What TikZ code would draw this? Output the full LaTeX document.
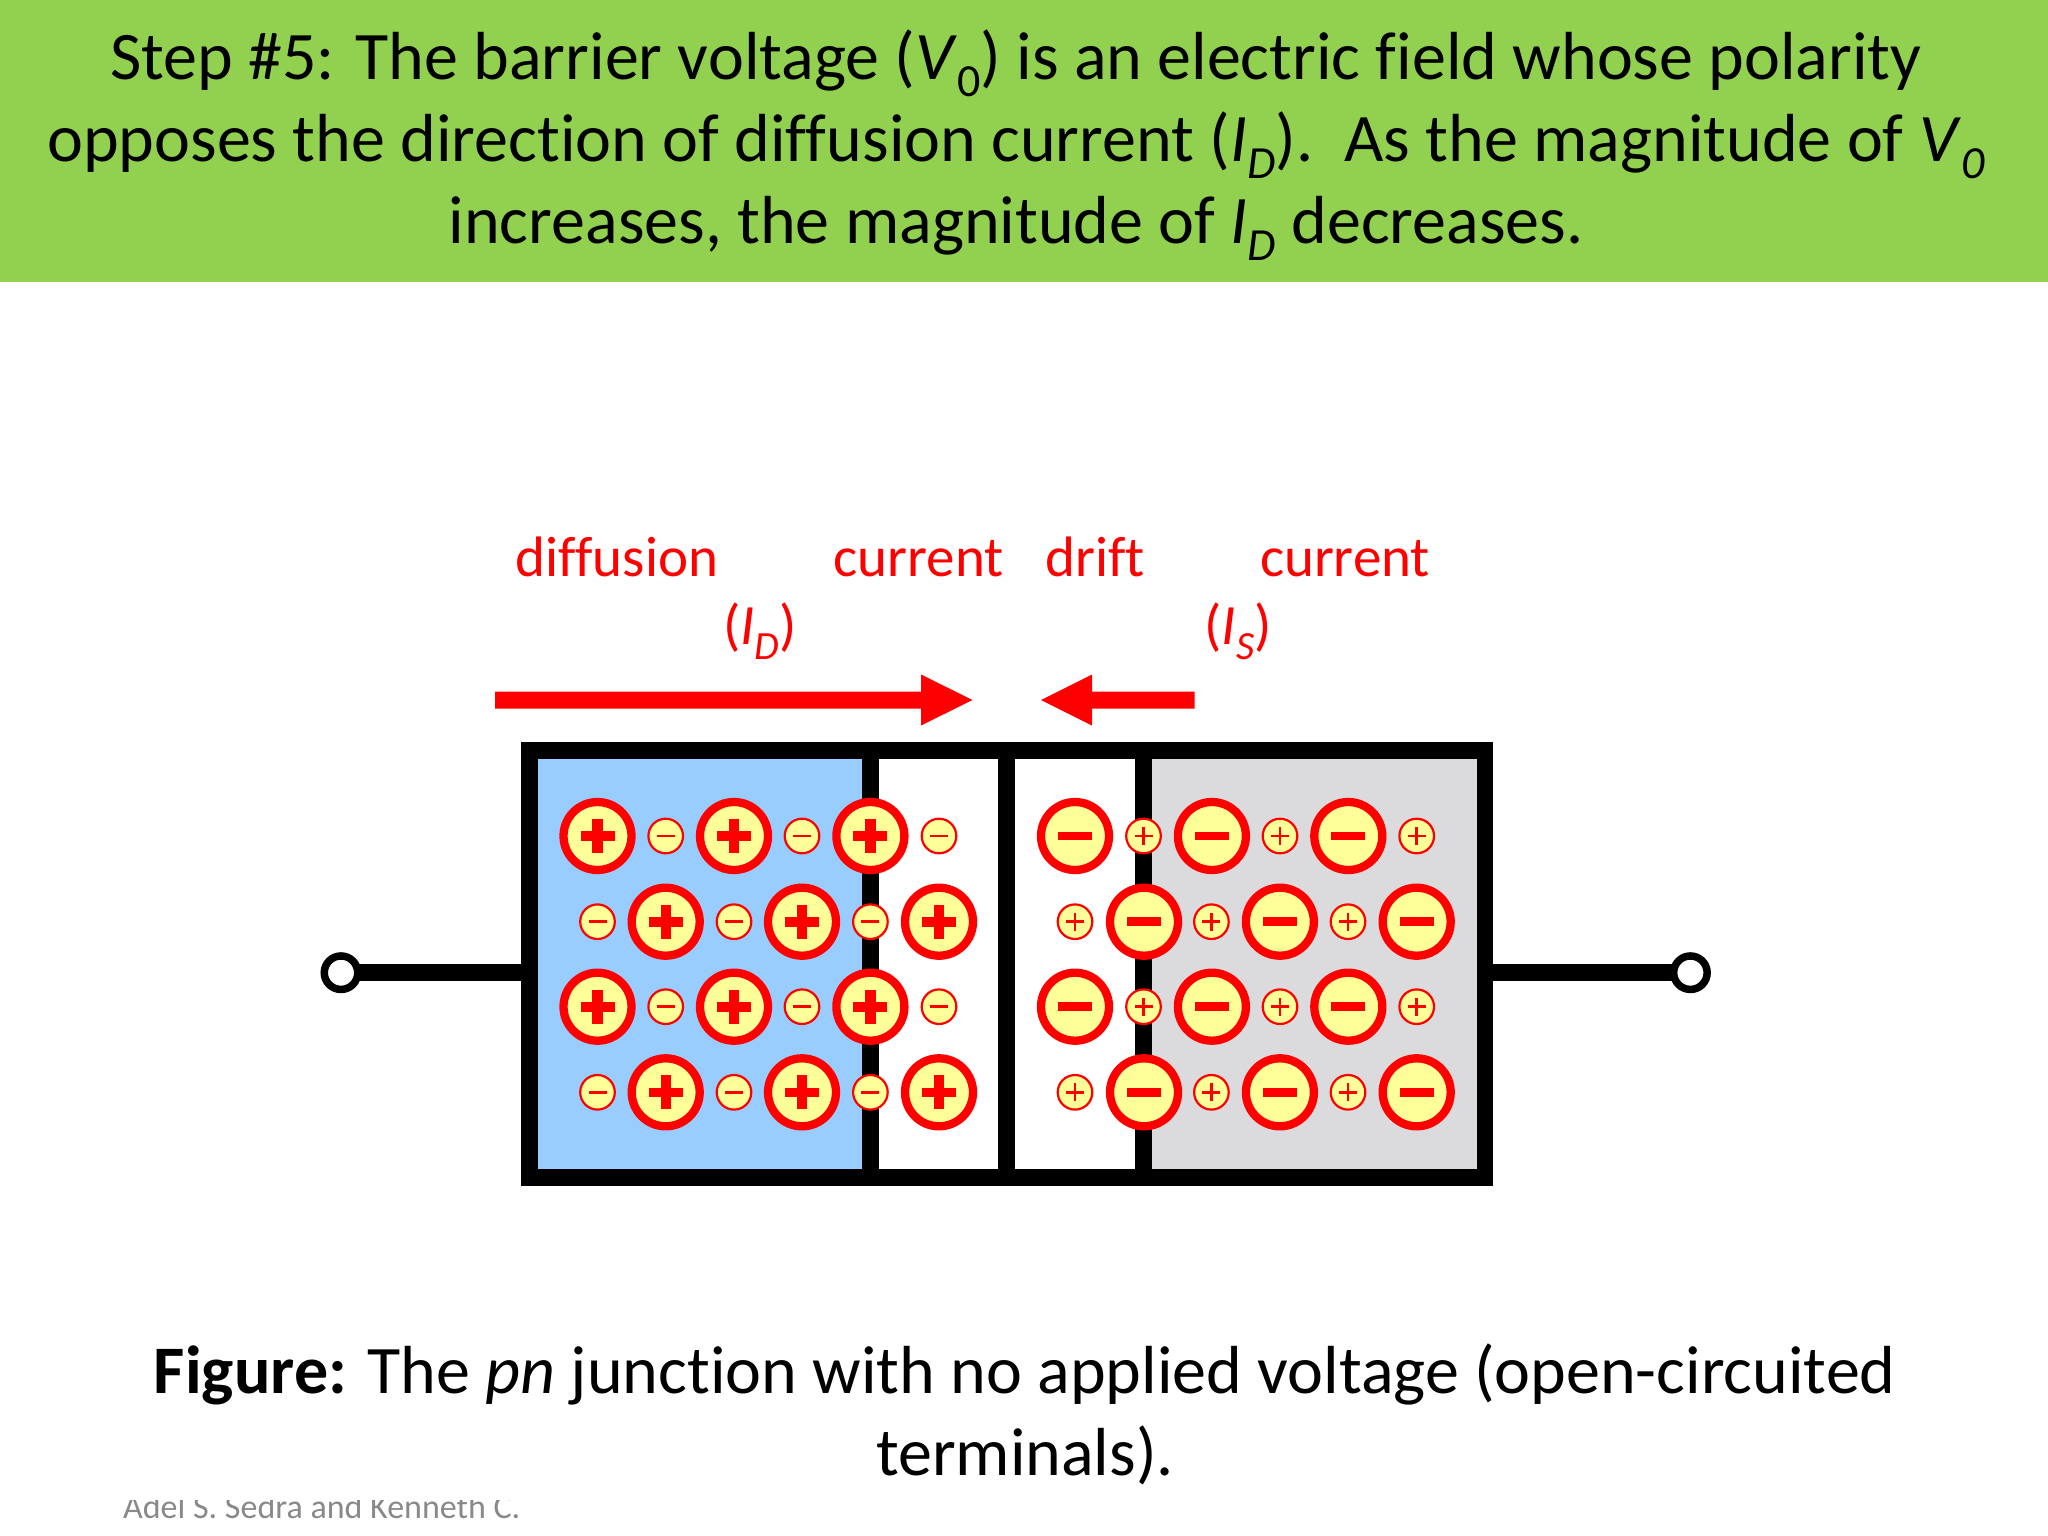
\documentclass[tikz,border=0pt]{standalone}
\usepackage{fontspec}
\usetikzlibrary{backgrounds}
\setmainfont[Ligatures={NoCommon,NoDiscretionary}]{Carlito}
\definecolor{hdr}{HTML}{92D050}
\definecolor{ptype}{HTML}{99CCFF}
\definecolor{ntype}{HTML}{DBDBDD}
\definecolor{ion}{HTML}{FFFF99}
\definecolor{capt}{HTML}{898989}
\tikzset{
  px/.style={x=1pt,y=-1pt},
  hdrtext/.style={font=\fontsize{68}{82}\selectfont,align=center,inner sep=0pt,anchor=base},
  redtext/.style={font=\fontsize{57}{68}\selectfont,text=red,inner sep=0pt,anchor=base},
  capttext/.style={font=\fontsize{68}{82}\selectfont,align=center,inner sep=0pt,anchor=base},
  wire/.style={line width=17pt,draw=black},
  wall/.style={fill=black,draw=none},
  terminal/.style={circle,draw=black,fill=white,line width=7.5pt,minimum size=33.5pt,inner sep=0pt},
  bigion/.style={circle,draw=red,fill=ion,line width=8.3pt,minimum size=68pt,inner sep=0pt},
  smallion/.style={circle,draw=red,fill=ion,line width=2.2pt,minimum size=34.6pt,inner sep=0pt},
}
\newcommand{\hsub}[1]{\raisebox{-17pt}{\fontsize{46}{46}\selectfont #1}}
\newcommand{\rsub}[1]{\raisebox{-15pt}{\fontsize{40}{40}\selectfont\textit{#1}}}
\newcommand{\bigplus}[2]{\node[bigion] at (#1,#2) {};
  \fill[red] (#1-17,#2-4.8) rectangle (#1+17,#2+4.8);
  \fill[red] (#1-5.2,#2-17) rectangle (#1+5.2,#2+17);}
\newcommand{\bigminus}[2]{\node[bigion] at (#1,#2) {};
  \fill[red] (#1-17,#2-4.3) rectangle (#1+17,#2+4.3);}
\newcommand{\smallplus}[2]{\node[smallion] at (#1,#2) {};
  \fill[red] (#1-9,#2-1.3) rectangle (#1+9,#2+1.3);
  \fill[red] (#1-1.3,#2-9) rectangle (#1+1.3,#2+9);}
\newcommand{\smallminus}[2]{\node[smallion] at (#1,#2) {};
  \fill[red] (#1-9,#2-1.3) rectangle (#1+9,#2+1.3);}
\begin{document}
\begin{tikzpicture}[px]
\useasboundingbox (0,0) rectangle (2048,1536);
% header
\fill[hdr] (0,0) rectangle (2048,282);
\node[hdrtext] (head1) at (1016,80) {Step \#5: The barrier voltage (\textit{V}\hsub{0}) is an electric field whose polarity};
\node[hdrtext] (head2) at (1016,161.5) {opposes the direction of diffusion current (\textit{I}\hsub{\textit{D}}).\ \ As the magnitude of \textit{V}\hsub{\textit{0}}};
\node[hdrtext] (head3) at (1016,243) {increases, the magnitude of \textit{I}\hsub{\textit{D}} decreases.};
% top labels
\node[redtext] (l1) at (617,576.5) {diffusion};
\node[redtext] (l2) at (918.5,576.5) {current};
\node[redtext] (l3) at (1095,576.5) {drift};
\node[redtext] (l4) at (1345,576.5) {current};
\node[redtext] (l5) at (760,644.5) {(\textit{I}\rsub{D})};
\node[redtext] (l6) at (1238,644.5) {(\textit{I}\rsub{S})};
% arrows
\fill[red] (495,691.5) -- (921,691.5) -- (921,674.5) -- (972.5,700) -- (921,725.5) -- (921,708.5) -- (495,708.5) -- cycle;
\fill[red] (1194.5,691.5) -- (1092,691.5) -- (1092,674.5) -- (1041,700) -- (1092,725.5) -- (1092,708.5) -- (1194.5,708.5) -- cycle;
% wires
\coordinate (wl) at (521,972.7);
\coordinate (wr) at (1493,972.7);
\node[terminal] (tl) at (341,972.7) {};
\node[terminal] (tr) at (1690.4,972.7) {};
\begin{scope}[on background layer]
\fill[white] (0,0) rectangle (2048,1536);
\draw[wire] (tl.center) -- (wl);
\draw[wire] (wr) -- (tr.center);
\end{scope}
% junction body
\fill[ptype] (537,759) rectangle (862,1169);
\fill[ntype] (1151,759) rectangle (1477,1169);
\fill[wall] (520.7,742) rectangle (1493,759.3);
\fill[wall] (520.7,1169) rectangle (1493,1185.7);
\fill[wall] (520.7,742) rectangle (537.5,1185.7);
\fill[wall] (1476.6,742) rectangle (1493,1185.7);
\fill[wall] (862,742) rectangle (878.6,1185.7);
\fill[wall] (998,742) rectangle (1015,1185.7);
\fill[wall] (1135,742) rectangle (1151.5,1185.7);
% ions
\foreach \y in {836,1006.7}{
  \foreach \x in {597.5,734,870.4}{\bigplus{\x}{\y}}
  \foreach \x in {665.7,802,939}{\smallminus{\x}{\y}}
  \foreach \x in {1075,1211.9,1348.3}{\bigminus{\x}{\y}}
  \foreach \x in {1143.5,1280,1416.7}{\smallplus{\x}{\y}}
}
\foreach \y in {921.7,1092.3}{
  \foreach \x in {665.7,802,939}{\bigplus{\x}{\y}}
  \foreach \x in {597.5,734,870.4}{\smallminus{\x}{\y}}
  \foreach \x in {1144,1279.9,1416.7}{\bigminus{\x}{\y}}
  \foreach \x in {1075,1211.4,1348}{\smallplus{\x}{\y}}
}
% caption
\node[capttext] (c1) at (1025,1393) {\textbf{Figure:} The \textit{pn} junction with no applied voltage (open-circuited};
\node[capttext] (c2) at (1025,1475) {terminals).};
% footer
\begin{scope}
\clip (0,1500) rectangle (2048,1536);
\node[font=\fontsize{34}{41}\selectfont,text=capt,anchor=base west,inner sep=0pt] (foot) at (123,1518) {Adel S. Sedra and Kenneth C.};
\end{scope}
\end{tikzpicture}
\end{document}
